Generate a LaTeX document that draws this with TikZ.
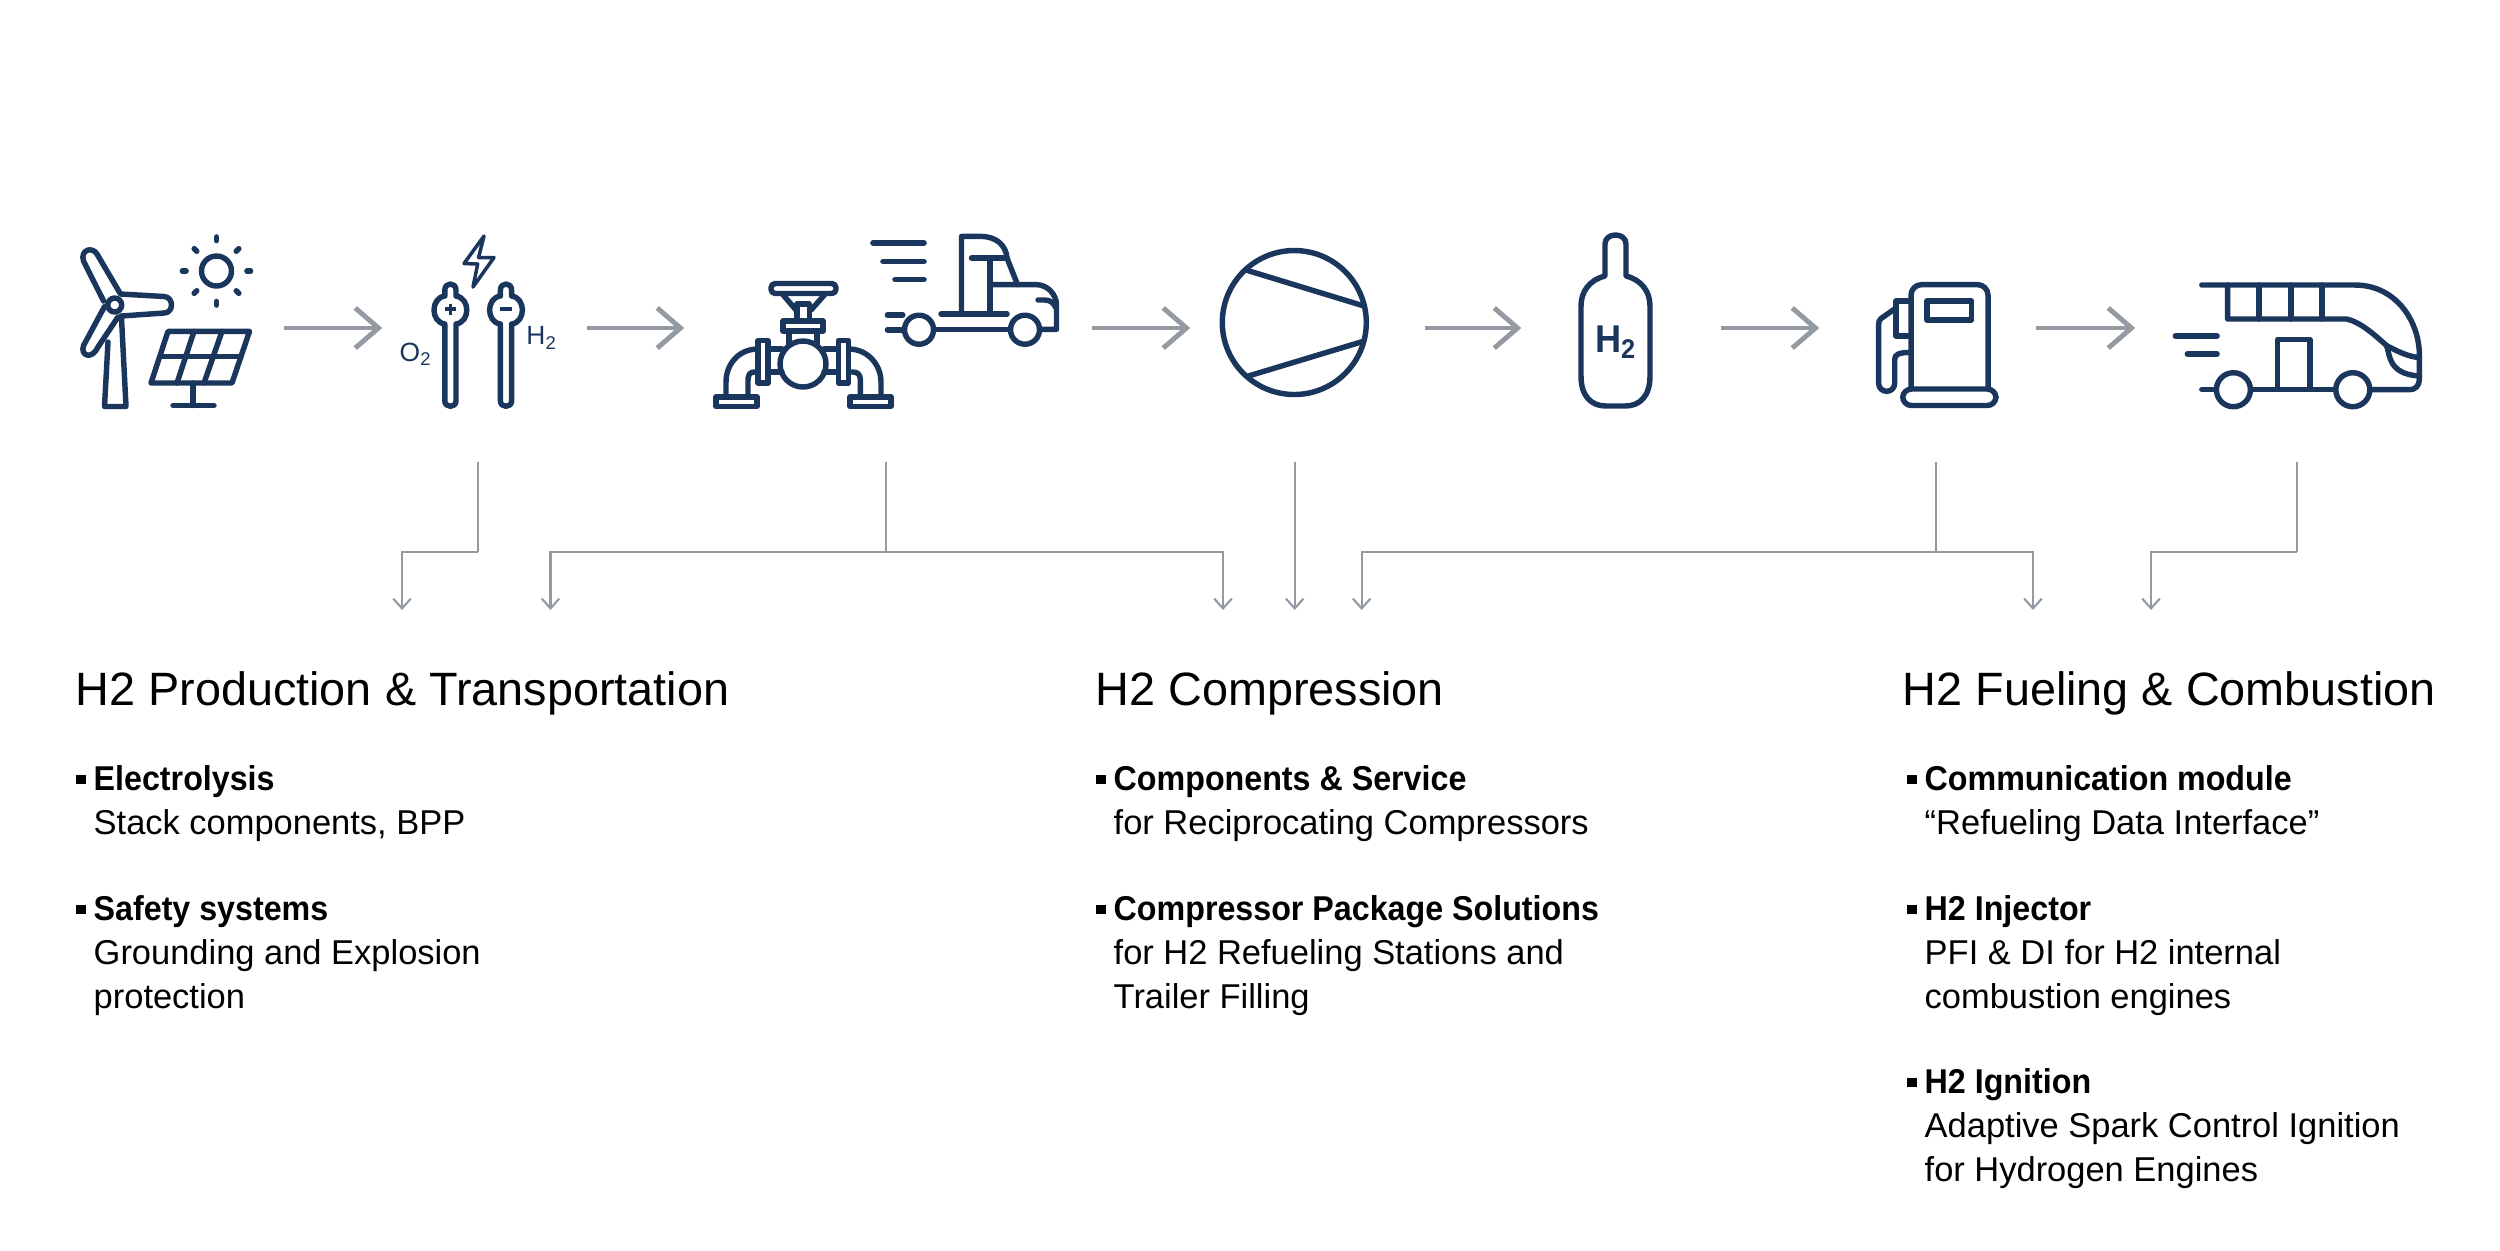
\documentclass[tikz,border=0pt]{standalone}
\usepackage{fontspec}
\setmainfont{Liberation Sans}[BoldFeatures={FakeStretch=0.935}]
\usetikzlibrary{arrows.meta}
\definecolor{h2navy}{HTML}{1B365D}
\definecolor{h2grey}{HTML}{939AA1}
\newcommand{\hitem}[1]{\llap{\rule[1.85pt]{2.6pt}{2.6pt}\hspace{2.3pt}}\textbf{#1}}
\tikzset{
  icon/.style={draw=h2navy, line width=1.55pt, line cap=round, line join=round},
  iconlabel/.style={text=h2navy, inner sep=0pt, font=\fontsize{7.5pt}{9pt}\selectfont},
  slot/.style={inner sep=0pt, minimum height=1cm},
  flowarrow/.style={draw=h2grey, line width=1.4pt, -{Straight Barb[length=6.6pt,width=11.4pt,line width=1.4pt]}},
  feedline/.style={draw=h2grey, line width=0.6pt},
  feedarrow/.style={feedline, -{Straight Barb[length=2.8pt,width=5pt,line width=0.6pt]}},
  heading/.style={anchor=base west, inner sep=0pt, font=\fontsize{13.3pt}{16pt}\selectfont},
  itemtext/.style={anchor=base west, inner sep=0pt, align=left, font=\fontsize{9.8pt}{12.45pt}\selectfont}
}
\begin{document}
\begin{tikzpicture}[x=0.01cm,y=-0.01cm]
  \useasboundingbox (0,0) rectangle (2500,1250);

  \node[slot,minimum width=2.08cm] (wind) at (179,328) {};
  \node[slot,minimum width=2.03cm] (cell) at (484.5,328) {};
  \node[slot,minimum width=4.06cm] (pipe) at (888,328) {};
  \node[slot,minimum width=2.33cm] (comp) at (1307.5,328) {};
  \node[slot,minimum width=1.98cm] (tank) at (1621,328) {};
  \node[slot,minimum width=2.15cm] (pump) at (1927.5,328) {};
  \node[slot,minimum width=2.94cm] (bus) at (2283,328) {};

  \draw[flowarrow] (wind) -- (cell);
  \draw[flowarrow] (cell) -- (pipe);
  \draw[flowarrow] (pipe) -- (comp);
  \draw[flowarrow] (comp) -- (tank);
  \draw[flowarrow] (tank) -- (pump);
  \draw[flowarrow] (pump) -- (bus);

  \draw[icon] (103.6,301) -- (83.5,261) .. controls (80,250) and (92,246) .. (97,254) -- (120.5,294) -- (164,296.5) .. controls (174,297) and (174,313) .. (164,313) -- (121.4,316);
  \draw[icon] (104.5,306.6) -- (83.5,345.6) .. controls (80,356) and (92,360) .. (98,347) -- (118,317);
  \draw[icon] (114.7,305) circle[radius=7];
  \draw[icon] (108,342) -- (104.5,406.5) -- (126,406.5) -- (121.4,316);
  \draw[icon] (216.5,271) circle[radius=15];
  \foreach \a in {0,90,180,270} {
    \draw[icon,line width=1.6pt] (216.5,271) ++(\a:30.5) -- ++(\a:3.5);
  }
  \foreach \a in {45,135,225,315} {
    \draw[icon,line width=1.6pt] (216.5,271) ++(\a:28) -- ++(\a:3.5);
  }
  \draw[icon] (168,331.4) -- (249.5,331.4) -- (232,383) -- (151,383) -- cycle;
  \draw[icon] (160,356.4) -- (241,356.4);
  \draw[icon] (194,331.4) -- (177,383);
  \draw[icon] (222,331.4) -- (204,383);
  \draw[icon] (193,383) -- (193,405.5);
  \draw[icon] (173,405.5) -- (214,405.5);

  \draw[icon,line width=1pt] (484,236) -- (464,263.5) -- (477.7,264) -- (473,287) -- (494,257.5) -- (478.6,257.5) -- cycle;
  \foreach \x in {450.4,506} {
    \draw[icon] (\x-5.6,401) -- (\x-5.6,324) .. controls (\x-20,322) and (\x-20,298) .. (\x-5.6,296) -- (\x-5.6,290) .. controls (\x-5.6,282) and (\x+5.6,282) .. (\x+5.6,290) -- (\x+5.6,296) .. controls (\x+20,298) and (\x+20,322) .. (\x+5.6,324) -- (\x+5.6,401) .. controls (\x+5.6,408) and (\x-5.6,408) .. (\x-5.6,401);
  }
  \draw[icon,line width=0.9pt,line cap=butt] (445,309) -- (456,309) (450.4,303.5) -- (450.4,314.5);
  \draw[icon,line width=0.9pt,line cap=butt] (500,309) -- (512,309);
  \node[iconlabel] (oxygen) at (416,354) {O\textsubscript{2}};
  \node[iconlabel] (hydrogen) at (542,338) {H\textsubscript{2}};

  \draw[icon,rounded corners=1.2pt] (771,283.5) rectangle (836,293.5);
  \draw[icon] (783,294.7) -- (796,310);
  \draw[icon] (824.6,294.7) -- (811,310);
  \draw[icon] (797,320) -- (797,304) -- (809.5,304) -- (809.5,320);
  \draw[icon] (783,321) rectangle (823,331);
  \draw[icon] (789,331) -- (789,344);
  \draw[icon] (817,331) -- (817,344);
  \draw[icon] (803,364) circle[radius=23];
  \draw[icon] (758,340.5) rectangle (768,383);
  \draw[icon] (838.4,340.5) rectangle (848.5,383);
  \draw[icon] (768,349) -- (782,349) (768,372) -- (782,372);
  \draw[icon] (824,349) -- (838.4,349) (824,372) -- (838.4,372);
  \draw[icon] (758,349) .. controls (738,349) and (726,365) .. (726,382) -- (726,397);
  \draw[icon] (758,372) -- (754,372) .. controls (750,372) and (748,375) .. (748,380) -- (748,397);
  \draw[icon] (848.5,349) .. controls (868,349) and (881,365) .. (881,382) -- (881,397);
  \draw[icon] (848.5,372) -- (853,372) .. controls (858,372) and (860.4,375) .. (860.4,380) -- (860.4,397);
  \draw[icon] (716,397) rectangle (757,406.5);
  \draw[icon] (850,397) rectangle (891,406.5);

  \foreach \x/\y in {873/243,883/261.5,895/279.5} {
    \draw[icon,line width=1.6pt] (\x,\y) -- (924,\y);
  }
  \draw[icon,line width=1.6pt] (887.5,315) -- (902.7,315);
  \draw[icon,line width=1.6pt] (887.5,329.7) -- (902.7,329.7);
  \draw[icon] (961.5,313) -- (961.5,236.4) -- (980.7,236.4) .. controls (996,236.4) and (1006,245) .. (1007,258) -- (1017.5,284.6);
  \draw[icon] (971.5,258) -- (1007,258);
  \draw[icon] (990,258) -- (990,313);
  \draw[icon] (990,284.6) -- (1036,284.6) .. controls (1048,284.6) and (1056.5,295) .. (1056.5,305) -- (1056.5,329.3) -- (1040.4,329.3);
  \draw[icon] (1038,300) -- (1045,300) .. controls (1050,300) and (1054,303) .. (1056,308);
  \draw[icon] (941,314) -- (1007,314);
  \draw[icon] (935,329.7) -- (1010.5,329.7);
  \draw[icon] (919,329.7) circle[radius=14.5];
  \draw[icon] (1025,329.7) circle[radius=14.5];

  \draw[icon] (1294.3,322.5) circle[radius=72];
  \draw[icon] (1247,270.3) -- (1362.7,305.6);
  \draw[icon] (1248.4,376) -- (1362.7,341.5);

  \draw[icon] (1605,276) -- (1605,244) .. controls (1605,232) and (1626,232) .. (1626,244) -- (1626,276) .. controls (1642,280) and (1650,292) .. (1650,306) -- (1650,376) .. controls (1650,396) and (1640,406) .. (1625,406) -- (1606,406) .. controls (1591,406) and (1581,396) .. (1581,376) -- (1581,306) .. controls (1581,292) and (1589,280) .. (1605,276) -- cycle;
  \node[text=h2navy, inner sep=0pt, font=\fontsize{11pt}{13pt}\selectfont\bfseries] (h2mark) at (1616,342) {H\textsubscript{2}};

  \draw[icon,rounded corners=3pt] (1911,388) -- (1911,284.6) -- (1988,284.6) -- (1988,388);
  \draw[icon] (1927,301) rectangle (1971.6,320);
  \draw[icon,rounded corners=2.5pt] (1902.7,405.5) -- (1902.7,389) -- (1996,389) -- (1996,405.5) -- cycle;
  \draw[icon] (1911,301) -- (1896,301) -- (1896,336) -- (1911,336);
  \draw[icon] (1896,308) -- (1881,318.5) .. controls (1879,320) and (1878.6,322) .. (1878.6,325) -- (1878.6,383) .. controls (1878.6,394) and (1894.7,394) .. (1894.7,383) -- (1894.7,359) .. controls (1894.7,354) and (1900,352.4) .. (1911,352.4);

  \draw[icon] (2201.8,285) -- (2355,285) .. controls (2395,285) and (2419.4,320) .. (2419.4,355.8) -- (2419.4,379) .. controls (2419.4,386) and (2415,389.7) .. (2409.6,389.7) -- (2372.3,389.7);
  \draw[icon] (2253.4,389.7) -- (2335,389.7);
  \draw[icon] (2227.6,285) -- (2227.6,319) -- (2346.4,319) .. controls (2362,322) and (2380,340) .. (2386.6,345.6) .. controls (2395,350) and (2408,357) .. (2419.4,357.5);
  \foreach \x in {2259,2291,2322} {
    \draw[icon] (\x,285) -- (\x,319);
  }
  \draw[icon] (2386.6,345.6) .. controls (2390,355) and (2388,374) .. (2419.4,376);
  \draw[icon] (2277.6,388) -- (2277.6,339.5) -- (2310,339.5) -- (2310,388);
  \draw[icon] (2233.4,389.7) circle[radius=17];
  \draw[icon] (2352.8,389.7) circle[radius=17];
  \draw[icon] (2201.8,389.7) -- (2214,389.7);
  \draw[icon,line width=1.6pt] (2175.4,336) -- (2217,336);
  \draw[icon,line width=1.6pt] (2187.4,354) -- (2217,354);

  \coordinate (stemA) at (478.3,462);
  \coordinate (busA) at (478.3,552);
  \coordinate (tipA) at (402,610);
  \coordinate (stemB) at (885.7,462);
  \coordinate (busB) at (885.7,552);
  \coordinate (tipB) at (550.5,610);
  \coordinate (tipC) at (1223,610);
  \coordinate (stemD) at (1294.7,462);
  \coordinate (tipD) at (1294.7,610);
  \coordinate (stemE) at (1936,462);
  \coordinate (busE) at (1936,552);
  \coordinate (tipE) at (1361.6,610);
  \coordinate (tipF) at (2033,610);
  \coordinate (stemG) at (2297,462);
  \coordinate (busG) at (2297,552);
  \coordinate (tipG) at (2151,610);

  \draw[feedline] (stemA) -- (busA);
  \draw[feedarrow] (busA) -| (tipA);
  \draw[feedline] (stemB) -- (busB);
  \draw[feedarrow] (busB) -| (tipB);
  \draw[feedarrow] (busB) -| (tipC);
  \draw[feedarrow] (stemD) -- (tipD);
  \draw[feedline] (stemE) -- (busE);
  \draw[feedarrow] (busE) -| (tipE);
  \draw[feedarrow] (busE) -| (tipF);
  \draw[feedline] (stemG) -- (busG);
  \draw[feedarrow] (busG) -| (tipG);

  \node[heading] (prodhead) at (75,705) {H2 Production \& Transportation};
  \node[heading] (comphead) at (1095,705) {H2 Compression};
  \node[heading] (fuelhead) at (1902,705) {H2 Fueling \& Combustion};

  \node[itemtext] (electro) at (93,834.5) {\hitem{Electrolysis}\\Stack components, BPP};
  \node[itemtext] (safety) at (93,1008) {\hitem{Safety systems}\\Grounding and Explosion\\protection};
  \node[itemtext] (service) at (1113,834.5) {\hitem{Components \& Service}\\for Reciprocating Compressors};
  \node[itemtext] (package) at (1113,1008) {\hitem{Compressor Package Solutions}\\for H2 Refueling Stations and\\Trailer Filling};
  \node[itemtext] (module) at (1924,834.5) {\hitem{Communication module}\\“Refueling Data Interface”};
  \node[itemtext] (injector) at (1924,1008) {\hitem{H2 Injector}\\PFI \& DI for H2 internal\\combustion engines};
  \node[itemtext] (ignition) at (1924,1181) {\hitem{H2 Ignition}\\Adaptive Spark Control Ignition\\for Hydrogen Engines};
\end{tikzpicture}
\end{document}
